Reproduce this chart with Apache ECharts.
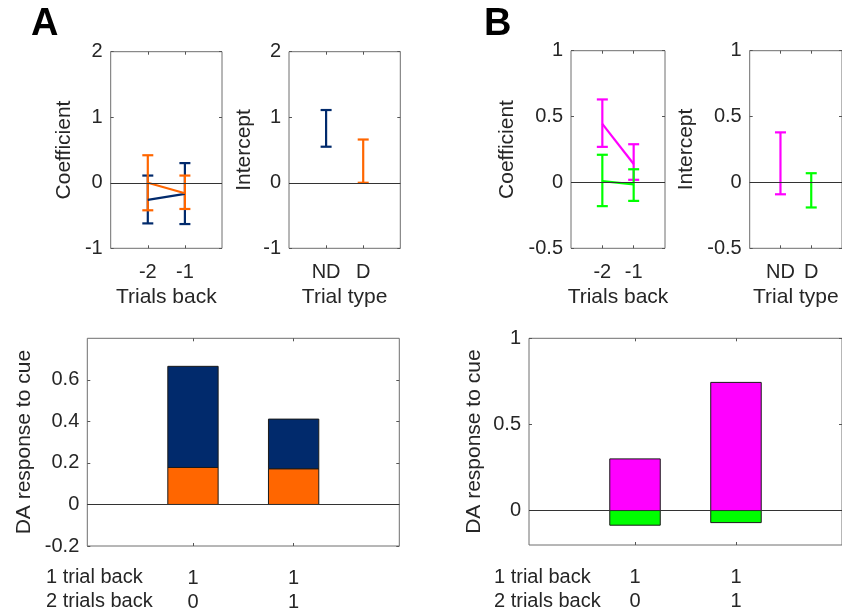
<!DOCTYPE html>
<html>
<head>
<meta charset="utf-8">
<script src="https://cdn.jsdelivr.net/npm/echarts@6/dist/echarts.min.js"></script>
<style>
    html, body { margin: 0; padding: 0; background: #fff; }
    #main { width: 842px; height: 615px; }
</style>
</head>
<body>
<div id="main"></div>
<script>
// data
var trialsBack = [-2, -1];
var trialTypes = ['ND', 'D'];

// A: coefficients (mean, lower, upper)
var aNavyCoef = [-0.26, -0.17];
var aNavyLo = [-0.62, -0.63];
var aNavyHi = [0.11, 0.30];
var aOrangeCoef = [0.0, -0.16];
var aOrangeLo = [-0.42, -0.40];
var aOrangeHi = [0.42, 0.11];
// A: intercepts ND, D
var aInterceptLo = [0.55, 0.0];
var aInterceptHi = [1.11, 0.66];

// B: coefficients
var bMagentaCoef = [0.445, 0.14];
var bMagentaLo = [0.27, 0.02];
var bMagentaHi = [0.63, 0.29];
var bGreenCoef = [0.01, -0.015];
var bGreenLo = [-0.18, -0.14];
var bGreenHi = [0.21, 0.10];
// B: intercepts ND, D
var bInterceptLo = [-0.09, -0.19];
var bInterceptHi = [0.38, 0.07];

// DA response to cue, stacked parts
var aOrangeBar = [0.178, 0.172];
var aNavyBar = [0.487, 0.239];
var bMagentaBar = [0.30, 0.744];
var bGreenBar = [-0.085, -0.07];

var oneTrialBack = ['1', '1'];
var twoTrialsBack = ['0', '1'];
var barPos = [1, 2];

var NAVY = '#012a6c';
var ORANGE = '#ff6600';
var MAGENTA = '#ff00ff';
var GREEN = '#00ff00';
var TXT = '#262626';
var FONT = 'Liberation Sans, Arial, Helvetica, sans-serif';

var grids = [
    {left: 110.7, top: 51.7, width: 111.3, height: 196.6},
    {left: 289, top: 51.7, width: 111.3, height: 196.6},
    {left: 571, top: 50.7, width: 94, height: 197.6},
    {left: 749.7, top: 50.7, width: 95, height: 197.6},
    {left: 87.3, top: 338.3, width: 312, height: 207.7},
    {left: 529, top: 338.3, width: 316, height: 206.7}
];

var xAxes = [];
var yAxes = [];
var tickStyle = {color: '#555'};

function addAxes(g, xc, yc) {
    xAxes.push({
        type: 'value', gridIndex: g, position: 'bottom',
        min: xc.min, max: xc.max,
        name: xc.name, nameLocation: 'middle', nameGap: xc.nameGap,
        nameTextStyle: {color: TXT, fontSize: 21, fontFamily: FONT},
        axisLine: {show: false, onZero: false},
        splitLine: {show: false},
        axisTick: {show: true, inside: true, length: 3, lineStyle: tickStyle, customValues: xc.ticks},
        axisLabel: {
            color: TXT, fontSize: 20, fontFamily: FONT, margin: xc.margin || 12,
            customValues: xc.ticks, formatter: xc.formatter, lineHeight: 24
        }
    });
    xAxes.push({
        type: 'value', gridIndex: g, position: 'top',
        min: xc.min, max: xc.max,
        axisLine: {show: false, onZero: false}, splitLine: {show: false},
        axisTick: {show: true, inside: true, length: 3, lineStyle: tickStyle, customValues: xc.ticks},
        axisLabel: {show: false}
    });
    yAxes.push({
        type: 'value', gridIndex: g, position: 'left',
        min: yc.min, max: yc.max,
        name: yc.name, nameLocation: 'middle', nameGap: yc.nameGap,
        nameTextStyle: {color: TXT, fontSize: 21, fontFamily: FONT},
        axisLine: {show: false, onZero: false}, splitLine: {show: false},
        axisTick: {show: true, inside: true, length: 3, lineStyle: tickStyle, customValues: yc.ticks},
        axisLabel: {color: TXT, fontSize: 20, fontFamily: FONT, margin: 8, customValues: yc.ticks}
    });
    yAxes.push({
        type: 'value', gridIndex: g, position: 'right',
        min: yc.min, max: yc.max,
        axisLine: {show: false, onZero: false}, splitLine: {show: false},
        axisTick: {show: true, inside: true, length: 3, lineStyle: tickStyle, customValues: yc.ticks},
        axisLabel: {show: false}
    });
}

var typeFmt = function (v) { return trialTypes[Math.round(v) - 1]; };
var rowFmt = function (v) {
    var i = Math.round(v) - 1;
    return oneTrialBack[i] + '\n' + twoTrialsBack[i];
};

addAxes(0, {min: -3, max: 0, ticks: trialsBack, name: 'Trials back', nameGap: 38},
           {min: -1, max: 2, ticks: [-1, 0, 1, 2], name: 'Coefficient', nameGap: 36});
addAxes(1, {min: 0, max: 3, ticks: [1, 2], formatter: typeFmt, name: 'Trial type', nameGap: 38},
           {min: -1, max: 2, ticks: [-1, 0, 1, 2], name: 'Intercept', nameGap: 34});
addAxes(2, {min: -3, max: 0, ticks: trialsBack, name: 'Trials back', nameGap: 38},
           {min: -0.5, max: 1, ticks: [-0.5, 0, 0.5, 1], name: 'Coefficient', nameGap: 53});
addAxes(3, {min: 0, max: 3, ticks: [1, 2], formatter: typeFmt, name: 'Trial type', nameGap: 38},
           {min: -0.5, max: 1, ticks: [-0.5, 0, 0.5, 1], name: 'Intercept', nameGap: 53});
addAxes(4, {min: -0.05, max: 3.05, ticks: barPos, formatter: rowFmt, margin: 20},
           {min: -0.2, max: 0.8, ticks: [-0.2, 0, 0.2, 0.4, 0.6], name: 'DA response to cue', nameGap: 53});
addAxes(5, {min: -0.05, max: 3.05, ticks: barPos, formatter: rowFmt, margin: 20},
           {min: -0.2, max: 1, ticks: [0, 0.5, 1], name: 'DA response to cue', nameGap: 44});

function errItem(params, api) {
    var x = api.value(0);
    var lo = api.coord([x, api.value(1)]);
    var hi = api.coord([x, api.value(2)]);
    var cap = 5.5;
    var st = {stroke: api.visual('color'), lineWidth: 2.2};
    return {
        type: 'group',
        children: [
            {type: 'line', shape: {x1: lo[0], y1: lo[1], x2: hi[0], y2: hi[1]}, style: st},
            {type: 'line', shape: {x1: lo[0] - cap, y1: lo[1], x2: lo[0] + cap, y2: lo[1]}, style: st},
            {type: 'line', shape: {x1: hi[0] - cap, y1: hi[1], x2: hi[0] + cap, y2: hi[1]}, style: st}
        ]
    };
}

function errSeries(g, xs, lo, hi, color) {
    return {
        type: 'custom', xAxisIndex: 2 * g, yAxisIndex: 2 * g,
        renderItem: errItem, itemStyle: {color: color},
        encode: {x: 0, y: [1, 2]},
        data: xs.map(function (x, i) { return [x, lo[i], hi[i]]; }),
        z: 3, silent: true
    };
}

function meanLine(g, xs, ys, color) {
    return {
        type: 'line', xAxisIndex: 2 * g, yAxisIndex: 2 * g,
        data: xs.map(function (x, i) { return [x, ys[i]]; }),
        symbol: 'none', lineStyle: {color: color, width: 2.2},
        z: 3, silent: true
    };
}

function zeroLine(g) {
    return {
        type: 'line', xAxisIndex: 2 * g, yAxisIndex: 2 * g, data: [],
        markLine: {
            silent: true, symbol: 'none', label: {show: false},
            lineStyle: {color: '#333', width: 1, type: 'solid'},
            data: [{yAxis: 0}]
        },
        z: 4
    };
}

// bar segment from base to base + value, half a unit wide
function barItem(params, api) {
    var x = api.value(0);
    var p0 = api.coord([x, api.value(1)]);
    var p1 = api.coord([x, api.value(2)]);
    var w = api.size([0.5, 0])[0];
    return {
        type: 'rect',
        shape: {x: p0[0] - w / 2, y: Math.min(p0[1], p1[1]), width: w, height: Math.abs(p1[1] - p0[1])},
        style: {fill: api.visual('color'), stroke: '#1a1a1a', lineWidth: 1}
    };
}

function barSeries(g, vals, base, color) {
    return {
        type: 'custom', xAxisIndex: 2 * g, yAxisIndex: 2 * g,
        renderItem: barItem, itemStyle: {color: color},
        encode: {x: 0, y: [1, 2]},
        data: barPos.map(function (x, i) {
            var b = base ? base[i] : 0;
            return [x, b, b + vals[i]];
        }),
        silent: true, z: 1
    };
}

var series = [];
for (var g = 0; g < 6; g++) series.push(zeroLine(g));

series.push(errSeries(0, trialsBack, aNavyLo, aNavyHi, NAVY));
series.push(meanLine(0, trialsBack, aNavyCoef, NAVY));
series.push(errSeries(0, trialsBack, aOrangeLo, aOrangeHi, ORANGE));
series.push(meanLine(0, trialsBack, aOrangeCoef, ORANGE));

series.push(errSeries(1, [1], [aInterceptLo[0]], [aInterceptHi[0]], NAVY));
series.push(errSeries(1, [2], [aInterceptLo[1]], [aInterceptHi[1]], ORANGE));

series.push(errSeries(2, trialsBack, bMagentaLo, bMagentaHi, MAGENTA));
series.push(meanLine(2, trialsBack, bMagentaCoef, MAGENTA));
series.push(errSeries(2, trialsBack, bGreenLo, bGreenHi, GREEN));
series.push(meanLine(2, trialsBack, bGreenCoef, GREEN));

series.push(errSeries(3, [1], [bInterceptLo[0]], [bInterceptHi[0]], MAGENTA));
series.push(errSeries(3, [2], [bInterceptLo[1]], [bInterceptHi[1]], GREEN));

series.push(barSeries(4, aOrangeBar, null, ORANGE));
series.push(barSeries(4, aNavyBar, aOrangeBar, NAVY));
series.push(barSeries(5, bMagentaBar, null, MAGENTA));
series.push(barSeries(5, bGreenBar, null, GREEN));

var chart = echarts.init(document.getElementById('main'));
chart.setOption({
    animation: false,
    backgroundColor: '#fff',
    grid: grids.map(function (r) {
        return {left: r.left, top: r.top, width: r.width, height: r.height,
            show: true, borderColor: '#6e6e6e', borderWidth: 1, backgroundColor: 'transparent'};
    }),
    xAxis: xAxes,
    yAxis: yAxes,
    series: series,
    graphic: [
        {type: 'text', left: 31, top: 6, style: {text: 'A', font: 'bold 38px ' + FONT, fill: '#000'}},
        {type: 'text', left: 484, top: 6, style: {text: 'B', font: 'bold 38px ' + FONT, fill: '#000'}},
        {type: 'text', left: 46, top: 567, style: {text: '1 trial back', font: '20px ' + FONT, fill: TXT}},
        {type: 'text', left: 46, top: 591, style: {text: '2 trials back', font: '20px ' + FONT, fill: TXT}},
        {type: 'text', left: 494, top: 567, style: {text: '1 trial back', font: '20px ' + FONT, fill: TXT}},
        {type: 'text', left: 494, top: 591, style: {text: '2 trials back', font: '20px ' + FONT, fill: TXT}}
    ]
});
</script>
</body>
</html>
